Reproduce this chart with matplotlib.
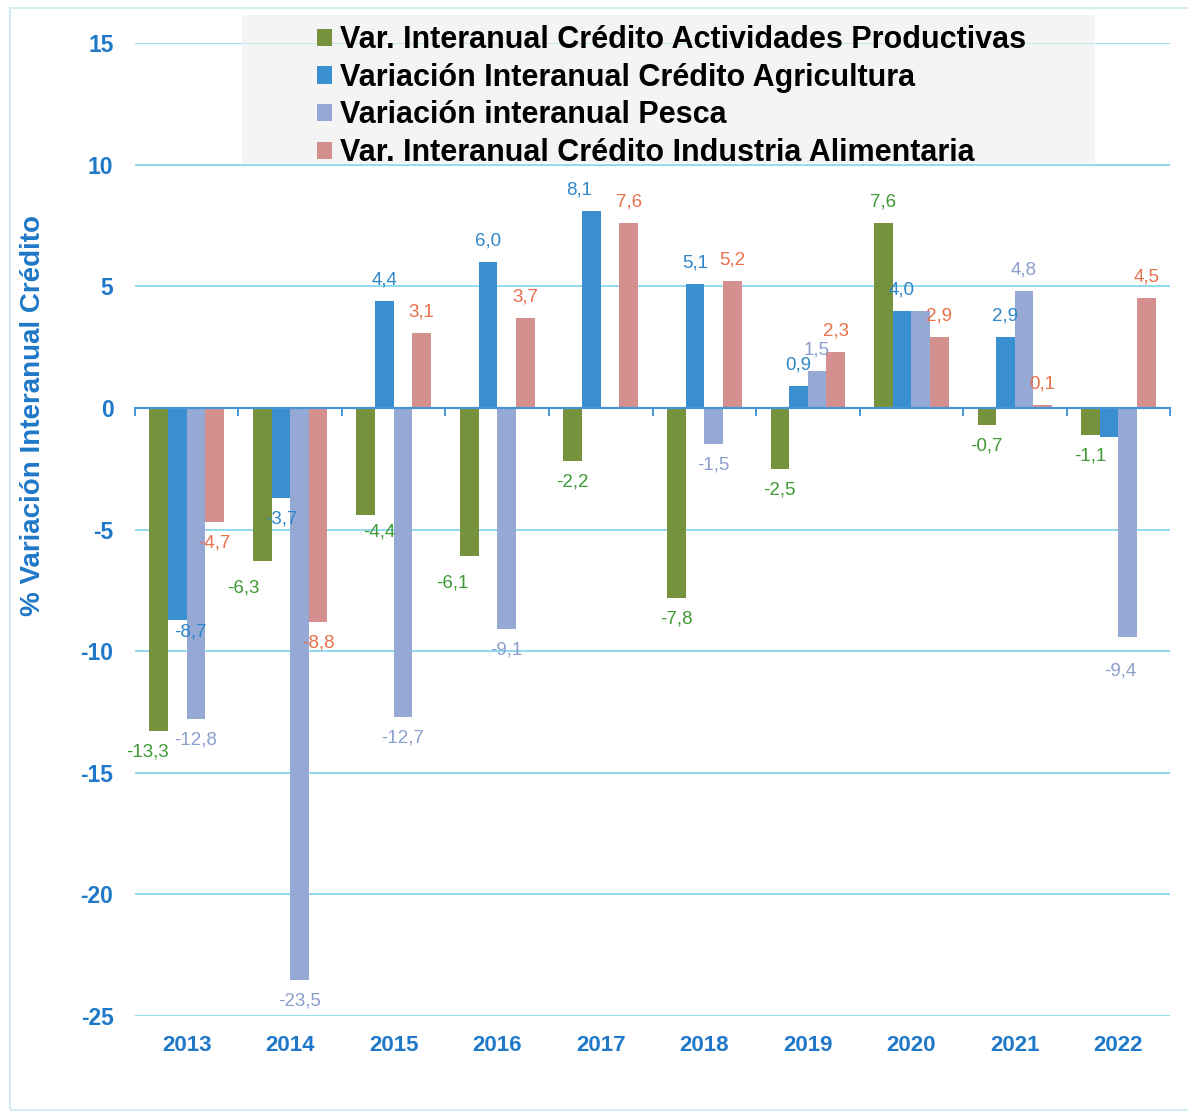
import numpy as np
import matplotlib
matplotlib.use("Agg")
import matplotlib.pyplot as plt
from matplotlib.patches import Rectangle

years = ["2013", "2014", "2015", "2016", "2017", "2018", "2019", "2020", "2021", "2022"]
act_productivas = [-13.3, -6.3, -4.4, -6.1, -2.2, -7.8, -2.5, 7.6, -0.7, -1.1]
agricultura = [-8.7, -3.7, 4.4, 6.0, 8.1, 5.1, 0.9, 4.0, 2.9, -1.2]
pesca = [-12.8, -23.5, -12.7, -9.1, np.nan, -1.5, 1.5, 4.0, 4.8, -9.4]
industria_alim = [-4.7, -8.8, 3.1, 3.7, 7.6, 5.2, 2.3, 2.9, 0.1, 4.5]
# which value labels the reference shows
show_label = [
    [True] * 10,
    [True] * 9 + [False],
    [True] * 7 + [False] + [True] * 2,
    [True] * 10,
]
series_names = [
    "Var. Interanual Crédito Actividades Productivas",
    "Variación Interanual Crédito Agricultura",
    "Variación interanual Pesca",
    "Var. Interanual Crédito Industria Alimentaria",
]
bar_colors = ["#76923C", "#3A8FD0", "#95A9D4", "#D48F8F"]
label_colors = ["#3E9A35", "#2E86C8", "#8A9FCC", "#E8704A"]
yticks = [15, 10, 5, 0, -5, -10, -15, -20, -25]

# label nudges (points) keyed by (series index, year index), as placed in the reference
label_nudge = {
    (0, 0): (-8, 0), (1, 0): (9, 6), (0, 1): (-14, -4), (0, 2): (10, 3),
    (0, 3): (-12, -4), (1, 4): (-9, 0), (2, 9): (-5, -10),
}

plt.rcParams['font.family'] = ['Liberation Sans', 'DejaVu Sans']

fig = plt.figure(figsize=(11.88, 11.18), dpi=100)
fig.patch.set_facecolor("white")
fig.patches.append(Rectangle((0.008, 0.007), 0.995, 0.986, transform=fig.transFigure,
                             fill=False, edgecolor="#D6ECF4", linewidth=1.5))

ax = fig.add_axes([0.1136, 0.0912, 0.8713, 0.8703])
x = np.arange(len(years))
n = 4
width = 0.18
data = [act_productivas, agricultura, pesca, industria_alim]
axis_blue = "#1F78C8"

handles = []
for i, (vals, name, bc, lc) in enumerate(zip(data, series_names, bar_colors, label_colors)):
    pos = x + (i - (n - 1) / 2) * width
    h = ax.bar(pos, vals, width=width, color=bc, label=name, zorder=3)
    handles.append(h)
    for j, (p, v, s) in enumerate(zip(pos, vals, show_label[i])):
        if np.isnan(v) or not s:
            continue
        txt = f"{v:.1f}".replace(".", ",")
        dx, dy = label_nudge.get((i, j), (0, 0))
        if v >= 0:
            ax.annotate(txt, (p, v), xytext=(dx, 9 + dy), textcoords="offset points",
                        ha="center", va="bottom", color=lc, fontsize=13.5, zorder=5)
        else:
            ax.annotate(txt, (p, v), xytext=(dx, -9 + dy), textcoords="offset points",
                        ha="center", va="top", color=lc, fontsize=13.5, zorder=5)

ax.set_xlim(-0.5, len(years) - 0.5)
ax.set_ylim(-25, 15)
ax.set_yticks(yticks)
ax.set_yticklabels([str(t) for t in yticks])
ax.tick_params(axis="y", length=0, pad=15.5, labelsize=16.5, labelcolor=axis_blue)
for lab in ax.get_yticklabels():
    lab.set_fontweight("bold")
ax.yaxis.grid(True, color="#7FD3EE", linewidth=1.2, zorder=0)
ax.set_axisbelow(True)

for s in ["top", "right", "left"]:
    ax.spines[s].set_visible(False)
ax.spines["bottom"].set_position(("data", 0))
ax.spines["bottom"].set_color("#4A95D6")
ax.spines["bottom"].set_linewidth(1.6)
ax.spines["bottom"].set_zorder(4)
ax.set_xticks(np.arange(len(years) + 1) - 0.5)
ax.set_xticklabels([])
ax.tick_params(axis="x", length=6, direction="out", color="#4A95D6", width=1.4)

sec = ax.secondary_xaxis(0.0)
sec.set_xticks(x)
sec.set_xticklabels(years)
sec.tick_params(length=0, pad=14, labelsize=16, labelcolor=axis_blue)
for lab in sec.get_xticklabels():
    lab.set_fontweight("bold")
sec.spines["bottom"].set_visible(False)

fig.text(0.028, 0.628, "% Variación Interanual Crédito", rotation=90, ha="center", va="center",
         color=axis_blue, fontsize=20, fontweight="bold")

# light translucent legend background panel
ax.add_patch(Rectangle((0.2037, 0.854), 0.718, 0.1324, transform=fig.transFigure,
                       facecolor="#EEEEEE", edgecolor="none", alpha=0.6, zorder=2,
                       clip_on=False))

leg = fig.legend(handles=handles, loc="upper left", bbox_to_anchor=(0.2668, 0.9775), ncol=1,
                 frameon=False, prop={"size": 22, "weight": "bold"}, handlelength=0.5,
                 handleheight=0.5, handletextpad=0.25, labelspacing=0.25, borderpad=0,
                 borderaxespad=0)

fig.savefig("out.png", dpi=100)
